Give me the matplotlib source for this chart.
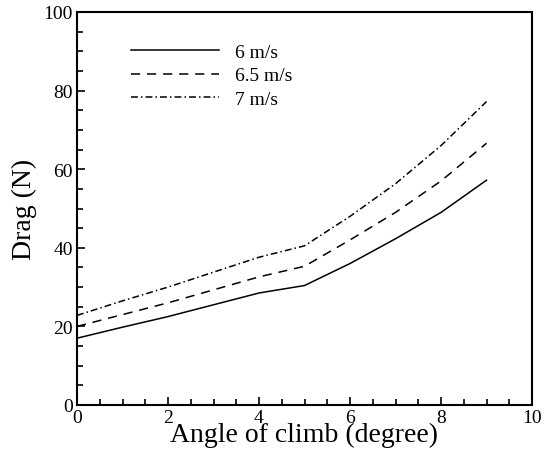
import matplotlib
matplotlib.use('Agg')
import matplotlib.pyplot as plt
from matplotlib.ticker import MultipleLocator

plt.rcParams['font.family'] = ['Liberation Serif', 'DejaVu Serif']
plt.rcParams['mathtext.fontset'] = 'stix'

angle = [0, 1, 2, 3, 4, 5, 6, 7, 8, 9]
drag_6 = [17.0, 19.8, 22.5, 25.5, 28.5, 30.4, 36.0, 42.3, 49.0, 57.2]
drag_6_5 = [20.0, 23.0, 26.0, 29.3, 32.6, 35.3, 42.0, 49.0, 57.0, 66.6]
drag_7 = [22.8, 26.5, 30.0, 33.8, 37.6, 40.5, 48.0, 56.3, 66.0, 77.2]
labels = ['6 m/s', '6.5 m/s', '7 m/s']

fig = plt.figure(figsize=(5.49, 4.56), dpi=100)
ax = fig.add_axes([77 / 549, 1 - 406 / 456, 455 / 549, 393 / 456])

ax.plot(angle, drag_6, color='black', lw=1.1, ls='-', label=labels[0])
ax.plot(angle, drag_6_5, color='black', lw=1.1, ls=(0, (6, 4.5)), label=labels[1])
ax.plot(angle, drag_7, color='black', lw=1.1, ls=(0, (4.5, 2, 1, 2)), label=labels[2])

ax.set_xlim(0, 10)
ax.set_ylim(0, 100)
ax.xaxis.set_major_locator(MultipleLocator(2))
ax.xaxis.set_minor_locator(MultipleLocator(0.5))
ax.yaxis.set_major_locator(MultipleLocator(20))
ax.yaxis.set_minor_locator(MultipleLocator(5))
ax.tick_params(which='both', direction='in', top=False, right=False, labelsize=14, width=1.2)
ax.tick_params(which='major', length=6, pad=3)
ax.tick_params(which='minor', length=4)
for sp in ax.spines.values():
    sp.set_linewidth(1.5)

ax.set_xlabel('Angle of climb (degree)', fontsize=20, labelpad=-3)
ax.set_ylabel('Drag (N)', fontsize=20, labelpad=5)

ax.legend(loc='upper left', bbox_to_anchor=(0.119, 0.92), frameon=False, fontsize=14,
          handlelength=4.5, handletextpad=0.85, labelspacing=0.3, borderpad=0,
          borderaxespad=0)

fig.savefig('out.png', dpi=100)
